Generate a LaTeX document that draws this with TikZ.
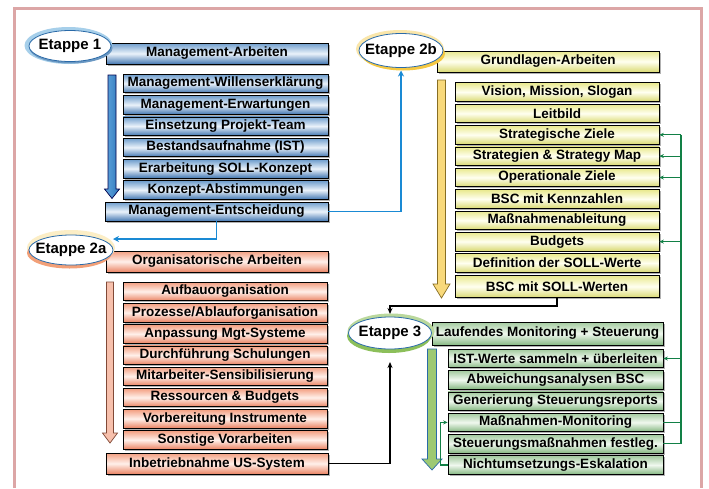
\documentclass[tikz,border=0pt]{standalone}
\usepackage{fontspec}
\setmainfont{Liberation Sans}
\usetikzlibrary{shadows,arrows.meta}

% palette
\definecolor{frameC}{HTML}{DCA6A6}
\definecolor{bTop}{HTML}{6E9DCC}
\definecolor{bMid}{HTML}{EAF2FA}
\definecolor{bBot}{HTML}{4478B2}
\definecolor{sTop}{HTML}{F39E80}
\definecolor{sMid}{HTML}{FFF0EA}
\definecolor{sBot}{HTML}{EA8464}
\definecolor{yTop}{HTML}{E9E98E}
\definecolor{yMid}{HTML}{FFFFF0}
\definecolor{yBot}{HTML}{DADA74}
\definecolor{gTop}{HTML}{A2CA9E}
\definecolor{gMid}{HTML}{F0F8EF}
\definecolor{gBot}{HTML}{86B882}
\definecolor{ellB}{HTML}{2A6AA8}
\definecolor{haloB}{HTML}{A6CFEA}
\definecolor{haloY}{HTML}{F5C842}
\definecolor{haloS}{HTML}{F2A078}
\definecolor{haloG}{HTML}{8CBF5A}
\definecolor{conBlue}{HTML}{1A8AD4}
\definecolor{conGreen}{HTML}{128046}
\definecolor{arrBl}{HTML}{62A6DE}
\definecolor{arrBr}{HTML}{2F78BB}

\begin{document}
\begin{tikzpicture}[x=1pt,y=-1pt,
  box/.style={rectangle, draw=black, line width=0.7pt, inner sep=0pt,
    font=\fontsize{13.5}{15}\selectfont\bfseries,
    drop shadow={shadow xshift=1.6pt, shadow yshift=-1.6pt, opacity=0.3, fill=black}},
  bluebox/.style={box, top color=bTop, bottom color=bBot, middle color=bMid},
  salmonbox/.style={box, top color=sTop, bottom color=sBot, middle color=sMid},
  yellowbox/.style={box, top color=yTop, bottom color=yBot, middle color=yMid},
  greenbox/.style={box, top color=gTop, bottom color=gBot, middle color=gMid},
  headbox/.style={minimum width=222pt, minimum height=21pt},
  itembox/.style={minimum width=#1, minimum height=18.5pt},
  etappe/.style={fill=white, draw=ellB, line width=0.8pt},
  etappetext/.style={inner sep=0pt, font=\fontsize{15}{17}\selectfont\bfseries},
  fatarrow/.style 2 args={fill=#1, draw=#2, line width=0.7pt, line join=miter},
  bluecon/.style={draw=conBlue, line width=1.6pt, -{Stealth[length=6pt,width=6pt]}},
  blackcon/.style={draw=black, line width=1.4pt, -{Stealth[length=6pt,width=5pt]}},
  greencon/.style={draw=conGreen, line width=1.2pt},
  greenarr/.style={greencon, -{Stealth[length=4.5pt,width=4pt]}}
]
\useasboundingbox (0,0) rectangle (709,488);
\fill[white] (0,0) rectangle (709,488);

% outer frame, open at the bottom
\draw[frameC, line width=3.2pt] (14.6,488) -- (14.6,8.6) -- (701.8,8.6) -- (701.8,488);

% ---------- Etappe 1 ----------
\draw[left color=arrBl, right color=arrBr, draw=black!70!blue, line width=0.7pt, line join=miter]
  (108,75) -- (116,75) -- (116,189) -- (119.5,189) -- (112,198.5) -- (104.5,189) -- (108,189) -- cycle;
\node[bluebox, headbox] (m0) at (217,53.5) {Management-Arbeiten};
\node[bluebox, itembox=205pt] (m1) at (225.5,83.5)  {Management-Willenserklärung};
\node[bluebox, itembox=205pt] (m2) at (225.5,104.8) {Management-Erwartungen};
\node[bluebox, itembox=205pt] (m3) at (225.5,126.1) {Einsetzung Projekt-Team};
\node[bluebox, itembox=205pt] (m4) at (225.5,147.4) {Bestandsaufnahme (IST)};
\node[bluebox, itembox=205pt] (m5) at (225.5,168.7) {Erarbeitung SOLL-Konzept};
\node[bluebox, itembox=205pt] (m6) at (225.5,190.0) {Konzept-Abstimmungen};
\node[bluebox, minimum width=223pt, minimum height=19pt] (m7) at (216.5,211.5) {Management-Entscheidung};
\fill[haloB] (68.5,45.5) ellipse (44 and 18.5);
\fill[ellB!70] (71,48) ellipse (41.5 and 15.5);
\filldraw[etappe] (70,46) ellipse (41 and 15.5);
\node[etappetext] (e1) at (70,46) {Etappe 1};

% ---------- Etappe 2b ----------
\filldraw[fatarrow={haloY!70!white}{haloY!55!black}]
  (437.5,80) -- (445.5,80) -- (445.5,284) -- (450,284) -- (441.5,298) -- (433,284) -- (437.5,284) -- cycle;
\node[yellowbox, headbox] (g0) at (548,61.5) {Grundlagen-Arbeiten};
\node[yellowbox, itembox=204pt] (g1) at (557,92.0)  {Vision, Mission, Slogan};
\node[yellowbox, itembox=204pt] (g2) at (557,113.4) {Leitbild};
\node[yellowbox, itembox=204pt] (g3) at (557,134.8) {Strategische Ziele};
\node[yellowbox, itembox=204pt] (g4) at (557,156.1) {Strategien \& Strategy Map};
\node[yellowbox, itembox=204pt] (g5) at (557,177.5) {Operationale Ziele};
\node[yellowbox, itembox=204pt] (g6) at (557,198.9) {BSC mit Kennzahlen};
\node[yellowbox, itembox=204pt] (g7) at (557,220.3) {Maßnahmenableitung};
\node[yellowbox, itembox=204pt] (g8) at (557,241.6) {Budgets};
\node[yellowbox, itembox=204pt] (g9) at (557,263.0) {Definition der SOLL-Werte};
\node[yellowbox, minimum width=204pt, minimum height=22pt] (g10) at (557,286.5) {BSC mit SOLL-Werten};
\fill[haloY!45!white] (400,49) ellipse (44 and 19);
\fill[haloY] (403,53.5) ellipse (42 and 17);
\filldraw[etappe] (401,50.5) ellipse (42 and 17);
\node[etappetext] (e2b) at (401,50.5) {Etappe 2b};

% ---------- Etappe 2a ----------
\filldraw[fatarrow={sTop!65!white}{sBot!55!black}]
  (106.5,282) -- (113.5,282) -- (113.5,433) -- (117.5,433) -- (110,443) -- (102.5,433) -- (106.5,433) -- cycle;
\node[salmonbox, headbox] (o0) at (217,261.5) {Organisatorische Arbeiten};
\node[salmonbox, itembox=204pt] (o1) at (225,291.5) {Aufbauorganisation};
\node[salmonbox, itembox=204pt] (o2) at (225,312.7) {Prozesse/Ablauforganisation};
\node[salmonbox, itembox=204pt] (o3) at (225,333.9) {Anpassung Mgt-Systeme};
\node[salmonbox, itembox=204pt] (o4) at (225,355.1) {Durchführung Schulungen};
\node[salmonbox, itembox=204pt] (o5) at (225,376.3) {Mitarbeiter-Sensibilisierung};
\node[salmonbox, itembox=204pt] (o6) at (225,397.5) {Ressourcen \& Budgets};
\node[salmonbox, itembox=204pt] (o7) at (225,418.7) {Vorbereitung Instrumente};
\node[salmonbox, itembox=204pt] (o8) at (225,439.9) {Sonstige Vorarbeiten};
\node[salmonbox, headbox] (o9) at (217,463.5) {Inbetriebnahme US-System};
\fill[haloY!30!white] (71,248) ellipse (44 and 18);
\fill[haloS] (69.5,253) ellipse (42.5 and 15.5);
\filldraw[etappe] (71,250) ellipse (42 and 15);
\node[etappetext] (e2a) at (71,250) {Etappe 2a};

% ---------- Etappe 3 ----------
\filldraw[fatarrow={haloG!85!white}{ellB}]
  (427.5,349) -- (436.5,349) -- (436.5,459) -- (442,459) -- (432,470) -- (422,459) -- (427.5,459) -- cycle;
\node[greenbox, minimum width=231pt, minimum height=23pt] (s0) at (547.5,333.5) {Laufendes Monitoring + Steuerung};
\node[greenbox, itembox=215pt] (s1) at (555.5,358.5) {IST-Werte sammeln + überleiten};
\node[greenbox, itembox=215pt] (s2) at (555.5,379.8) {Abweichungsanalysen BSC};
\node[greenbox, itembox=215pt] (s3) at (555.5,401.1) {Generierung Steuerungsreports};
\node[greenbox, itembox=215pt] (s4) at (555.5,422.4) {Maßnahmen-Monitoring};
\node[greenbox, itembox=215pt] (s5) at (555.5,443.7) {Steuerungsmaßnahmen festleg.};
\node[greenbox, itembox=215pt] (s6) at (555.5,465.0) {Nichtumsetzungs-Eskalation};
\fill[haloG!60!white] (391,331.5) ellipse (43.5 and 18);
\fill[haloG] (389,336) ellipse (42 and 17);
\filldraw[etappe] (390,333) ellipse (41.5 and 16);
\node[etappetext] (e3) at (390,333) {Etappe 3};

% ---------- connectors ----------
\coordinate (t2b) at (401,70.5);
\coordinate (t2a) at (113,239);
\coordinate (t3top) at (390,314);
\coordinate (in3) at (390,362);
\coordinate (gb) at (681,0);
\coordinate (gl) at (440.5,0);

\draw[bluecon] (m7.east) -- (t2b |- m7.east) -- (t2b);
\draw[bluecon] (m7.south) -- (m7.south |- t2a) -- (t2a);

\draw[blackcon] (g10.south) -- ([yshift=-8pt]g10.south) -| (t3top);
\draw[blackcon] (o9.east) -- (in3 |- o9.east) -- (in3);

% feedback loop on the right
\draw[greencon] (s5.east) -- (s5.east -| gb) -- (g3.east -| gb);
\draw[greencon] (s4.east) -- (s4.east -| gb);
\draw[greenarr] (g3.east -| gb) -- (g3.east);
\draw[greenarr] (g4.east -| gb) -- (g4.east);
\draw[greenarr] (g5.east -| gb) -- (g5.east);
\draw[greenarr] (g8.east -| gb) -- (g8.east);
\draw[greenarr] (s1.east -| gb) -- (s1.east);

% escalation loop on the left
\draw[greenarr] (s6.west) -- (s6.west -| gl) -- (s4.west -| gl) -- (s4.west);
\end{tikzpicture}
\end{document}
